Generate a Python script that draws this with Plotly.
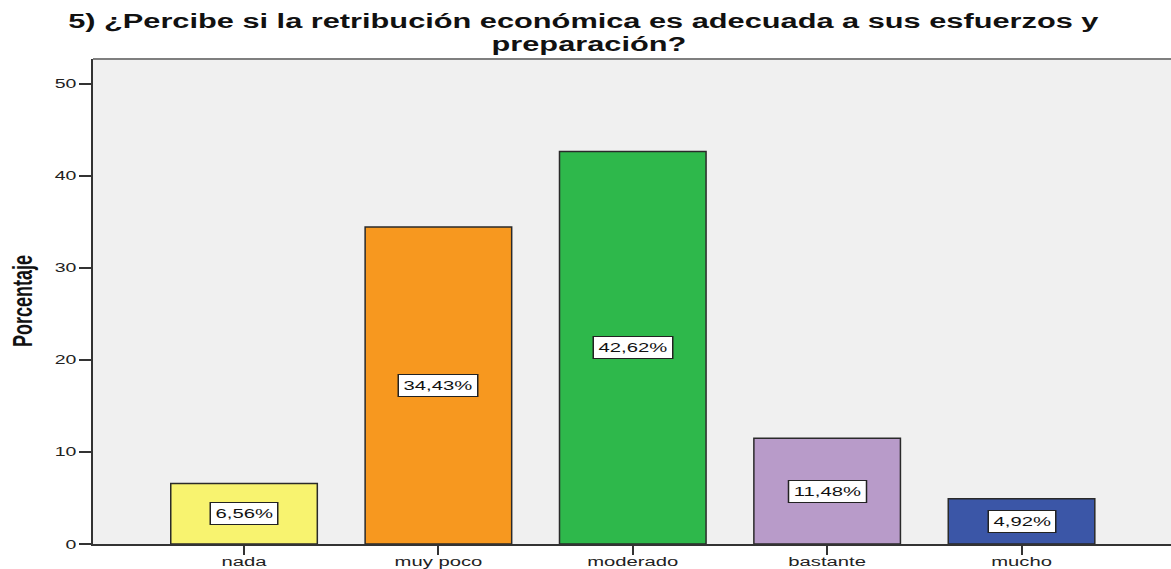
import plotly.graph_objects as go

# Survey answers and their share of respondents (%)
categories = ["nada", "muy poco", "moderado", "bastante", "mucho"]
percentages = [6.56, 34.43, 42.62, 11.48, 4.92]
bar_colors = ["#F8F36F", "#F7981F", "#2EB84B", "#B89BC9", "#3B56A7"]
y_ticks = [0, 10, 20, 30, 40, 50]

title_lines = [
    "5) ¿Percibe si la retribución económica es adecuada a sus esfuerzos y",
    "preparación?",
]
y_title = "Porcentaje"

FONT = "Liberation Sans, Arial, Helvetica, sans-serif"
W, H = 1171, 569
M_L, M_R, M_T, M_B = 93, 0, 59, 25


def pct_label(v):
    return f"{v:.2f}".replace(".", ",") + "%"


def paper_y(py):
    return (H - M_B - py) / (H - M_T - M_B)


def paper_x(px):
    return (px - M_L) / (W - M_L - M_R)


fig = go.Figure(
    go.Bar(
        x=categories,
        y=percentages,
        width=0.754,
        marker=dict(color=bar_colors, line=dict(color="#2a2a2a", width=1.5)),
        hoverinfo="skip",
    )
)

# value boxes centred in each bar
for cat, val in zip(categories, percentages):
    fig.add_annotation(
        x=cat, y=val / 2, xref="x", yref="y",
        text=pct_label(val), showarrow=False,
        font=dict(family=FONT, size=13.5, color="#111"),
        bgcolor="white", bordercolor="#222", borderwidth=1, borderpad=3,
    )

# two-line heading, centred on the page
for line, py, cx in zip(title_lines, [20.5, 43.5], [584, 589]):
    fig.add_annotation(
        x=paper_x(cx), xref="paper", y=paper_y(py), yref="paper",
        xanchor="center", yanchor="middle", showarrow=False,
        text=f"<b>{line}</b>",
        font=dict(family=FONT, size=20.5, color="#111"),
    )

# vertical axis title
fig.add_annotation(
    x=paper_x(23), xref="paper", y=paper_y(301), yref="paper",
    xanchor="center", yanchor="middle", showarrow=False, textangle=-90,
    text=f"<b>{y_title}</b>",
    font=dict(family=FONT, size=18, color="#111"),
)

fig.update_layout(
    width=W, height=H,
    margin=dict(l=M_L, r=M_R, t=M_T, b=M_B, pad=0),
    paper_bgcolor="white",
    plot_bgcolor="#F0F0F0",
    showlegend=False,
    font=dict(family=FONT, color="#222"),
    shapes=[dict(type="line", xref="paper", yref="paper", x0=0, x1=1, y0=1, y1=1,
                 line=dict(color="#7f7f7f", width=2))],
)

fig.update_xaxes(
    range=[-0.777, 4.769], showgrid=False, zeroline=False, automargin=False,
    showline=True, linecolor="#333", linewidth=2,
    ticks="outside", ticklen=9, tickwidth=1.5, tickcolor="#333",
    ticklabelstandoff=-5,
    tickfont=dict(family=FONT, size=13.5, color="#222"),
)
fig.update_yaxes(
    range=[0, 52.66], tickvals=y_ticks, showgrid=False, zeroline=False, automargin=False,
    showline=True, linecolor="#333", linewidth=2,
    ticks="outside", ticklen=12, tickwidth=1.5, tickcolor="#333",
    tickfont=dict(family=FONT, size=13, color="#222"),
)

# widen all lettering horizontally (wide-set chart typography)
stretch_js = """
var gd = document.getElementById('{plot_id}');
var S = 1.5;
function widen(el, mode) {
  var r = el.getBoundingClientRect();
  if (!r.width) return;
  var px = mode === 'end' ? r.right : (mode === 'start' ? r.left : (r.left + r.right) / 2);
  var m = el.parentNode.getScreenCTM();
  var lx = (px - m.e) / m.a;
  var old = el.getAttribute('transform') || '';
  el.setAttribute('transform', 'translate(' + lx + ',0) scale(' + S + ',1) translate(' + (-lx) + ',0) ' + old);
}
gd.querySelectorAll('.annotation-text-g').forEach(function (g) { widen(g, 'middle'); });
gd.querySelectorAll('text').forEach(function (t) {
  if (t.closest('.annotation')) return;
  if (!t.textContent.trim()) return;
  var a = t.getAttribute('text-anchor') || 'middle';
  widen(t, a);
});
"""

fig.write_html("out.html", config={"displayModeBar": False}, post_script=stretch_js)
